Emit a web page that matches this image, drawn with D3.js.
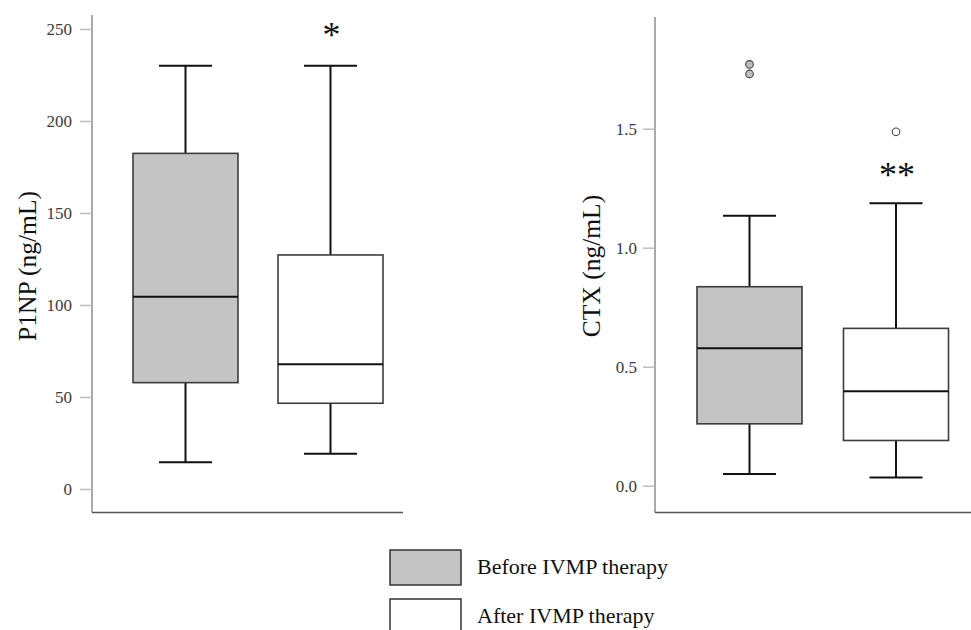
<!DOCTYPE html>
<html>
<head>
<meta charset="utf-8">
<script src="https://cdn.jsdelivr.net/npm/d3@7"></script>
<style>
  html, body { margin: 0; padding: 0; background: #fff; }
  svg { display: block; }
  text { font-family: "Liberation Serif", "DejaVu Serif", serif; }
</style>
</head>
<body>
<svg id="chart" width="971" height="630"></svg>
<script>
// ---------------- data ----------------
const groups = ["Before IVMP therapy", "After IVMP therapy"];
const groupFills = ["#c4c4c4", "#ffffff"];

// P1NP (ng/mL)
const p1npTicks = [0, 50, 100, 150, 200, 250];
const p1npMin    = [14.5, 19.2];
const p1npQ1     = [57.8, 46.6];
const p1npMedian = [104.5, 67.8];
const p1npQ3     = [182.4, 127.2];
const p1npMax    = [230, 230];
const p1npOutliers = [[], []];
const p1npSignif = ["", "*"];

// CTX (ng/mL)
const ctxTicks = [0.0, 0.5, 1.0, 1.5];
const ctxMin    = [0.049, 0.034];
const ctxQ1     = [0.26, 0.19];
const ctxMedian = [0.577, 0.397];
const ctxQ3     = [0.836, 0.661];
const ctxMax    = [1.134, 1.187];
const ctxOutliers = [[1.77, 1.73], [1.487]];
const ctxSignif = ["", "**"];

// ---------------- drawing ----------------
const svg = d3.select("#chart");

function panel(opts) {
  const g = svg.append("g");
  const y = d3.scaleLinear().domain(opts.domain).range(opts.yRange);
  const x = d3.scalePoint().domain(groups).range(opts.xCenters);

  // y axis line
  g.append("line")
    .attr("x1", opts.axisX).attr("x2", opts.axisX)
    .attr("y1", opts.axisTop).attr("y2", opts.axisBottom)
    .attr("stroke", "#8c8c8c").attr("stroke-width", 1.5);
  // x axis (bottom) line
  g.append("line")
    .attr("x1", opts.axisX).attr("x2", opts.axisRight)
    .attr("y1", opts.axisBottom).attr("y2", opts.axisBottom)
    .attr("stroke", "#555").attr("stroke-width", 1.5);

  // ticks
  const axis = d3.axisLeft(y)
    .tickValues(opts.ticks)
    .tickFormat(opts.fmt)
    .tickSize(12)
    .tickPadding(opts.tickPad);
  const ag = g.append("g").attr("transform", `translate(${opts.axisX},0)`).call(axis);
  ag.select(".domain").remove();
  ag.selectAll(".tick line").attr("stroke", "#bdbdbd").attr("stroke-width", 1.5);
  ag.selectAll(".tick text")
    .attr("fill", "#3a3a3a")
    .style("font-size", "17px")
    .style("font-family", "'Liberation Serif', serif");

  // y label
  g.append("text")
    .attr("transform", `translate(${opts.labelX},${opts.labelY}) rotate(-90)`)
    .attr("text-anchor", "middle")
    .attr("dy", "0.35em")
    .style("font-size", "25.5px")
    .attr("fill", "#111")
    .text(opts.label);

  const bw = 105, cw = 53;
  groups.forEach((grp, i) => {
    const cx = x(grp);
    const s = opts.stats;
    // whiskers
    g.append("line").attr("x1", cx).attr("x2", cx)
      .attr("y1", y(s.max[i])).attr("y2", y(s.q3[i]))
      .attr("stroke", "#111").attr("stroke-width", 2);
    g.append("line").attr("x1", cx).attr("x2", cx)
      .attr("y1", y(s.q1[i])).attr("y2", y(s.min[i]))
      .attr("stroke", "#111").attr("stroke-width", 2);
    g.append("line").attr("x1", cx - cw / 2).attr("x2", cx + cw / 2)
      .attr("y1", y(s.max[i])).attr("y2", y(s.max[i]))
      .attr("stroke", "#111").attr("stroke-width", 2);
    g.append("line").attr("x1", cx - cw / 2).attr("x2", cx + cw / 2)
      .attr("y1", y(s.min[i])).attr("y2", y(s.min[i]))
      .attr("stroke", "#111").attr("stroke-width", 2);
    // box
    g.append("rect")
      .attr("x", cx - bw / 2).attr("width", bw)
      .attr("y", y(s.q3[i])).attr("height", y(s.q1[i]) - y(s.q3[i]))
      .attr("fill", groupFills[i])
      .attr("stroke", "#3c3c3c").attr("stroke-width", 1.6);
    // median
    g.append("line").attr("x1", cx - bw / 2).attr("x2", cx + bw / 2)
      .attr("y1", y(s.median[i])).attr("y2", y(s.median[i]))
      .attr("stroke", "#111").attr("stroke-width", 2);
    // outliers
    s.out[i].forEach(v => {
      g.append("circle").attr("cx", cx).attr("cy", y(v)).attr("r", 3.8)
        .attr("fill", i === 0 ? "#bdbdbd" : "#fff")
        .attr("stroke", "#444").attr("stroke-width", 1.1);
    });
    // significance
    if (s.sig[i]) {
      g.append("text")
        .attr("x", cx + 1)
        .attr("y", y(opts.sigVal))
        .attr("text-anchor", "middle")
        .style("font-size", "36px")
        .attr("fill", "#111")
        .text(s.sig[i]);
    }
  });
}

panel({
  domain: [0, 250], yRange: [489, 29],
  xCenters: [185.5, 330.5],
  axisX: 92, axisTop: 15, axisBottom: 512.5, axisRight: 403,
  ticks: p1npTicks, fmt: d3.format("d"), tickPad: 8,
  label: "P1NP (ng/mL)", labelX: 27, labelY: 266,
  sigVal: 240,
  stats: { min: p1npMin, q1: p1npQ1, median: p1npMedian, q3: p1npQ3, max: p1npMax,
           out: p1npOutliers, sig: p1npSignif }
});

panel({
  domain: [0, 1.5], yRange: [485.7, 128.7],
  xCenters: [749.5, 896],
  axisX: 655, axisTop: 17, axisBottom: 512.5, axisRight: 971,
  ticks: ctxTicks, fmt: d3.format(".1f"), tickPad: 6,
  label: "CTX (ng/mL)", labelX: 591, labelY: 266,
  sigVal: 1.253,
  stats: { min: ctxMin, q1: ctxQ1, median: ctxMedian, q3: ctxQ3, max: ctxMax,
           out: ctxOutliers, sig: ctxSignif }
});

// ---------------- legend ----------------
const legend = svg.append("g");
groups.forEach((grp, i) => {
  const ly = 550 + i * 49;
  legend.append("rect")
    .attr("x", 390).attr("y", ly).attr("width", 71).attr("height", 35)
    .attr("fill", groupFills[i]).attr("stroke", "#333").attr("stroke-width", 1.5);
  legend.append("text")
    .attr("x", 477).attr("y", ly + 24)
    .style("font-size", "22px").attr("fill", "#111")
    .text(grp);
});
</script>
</body>
</html>
